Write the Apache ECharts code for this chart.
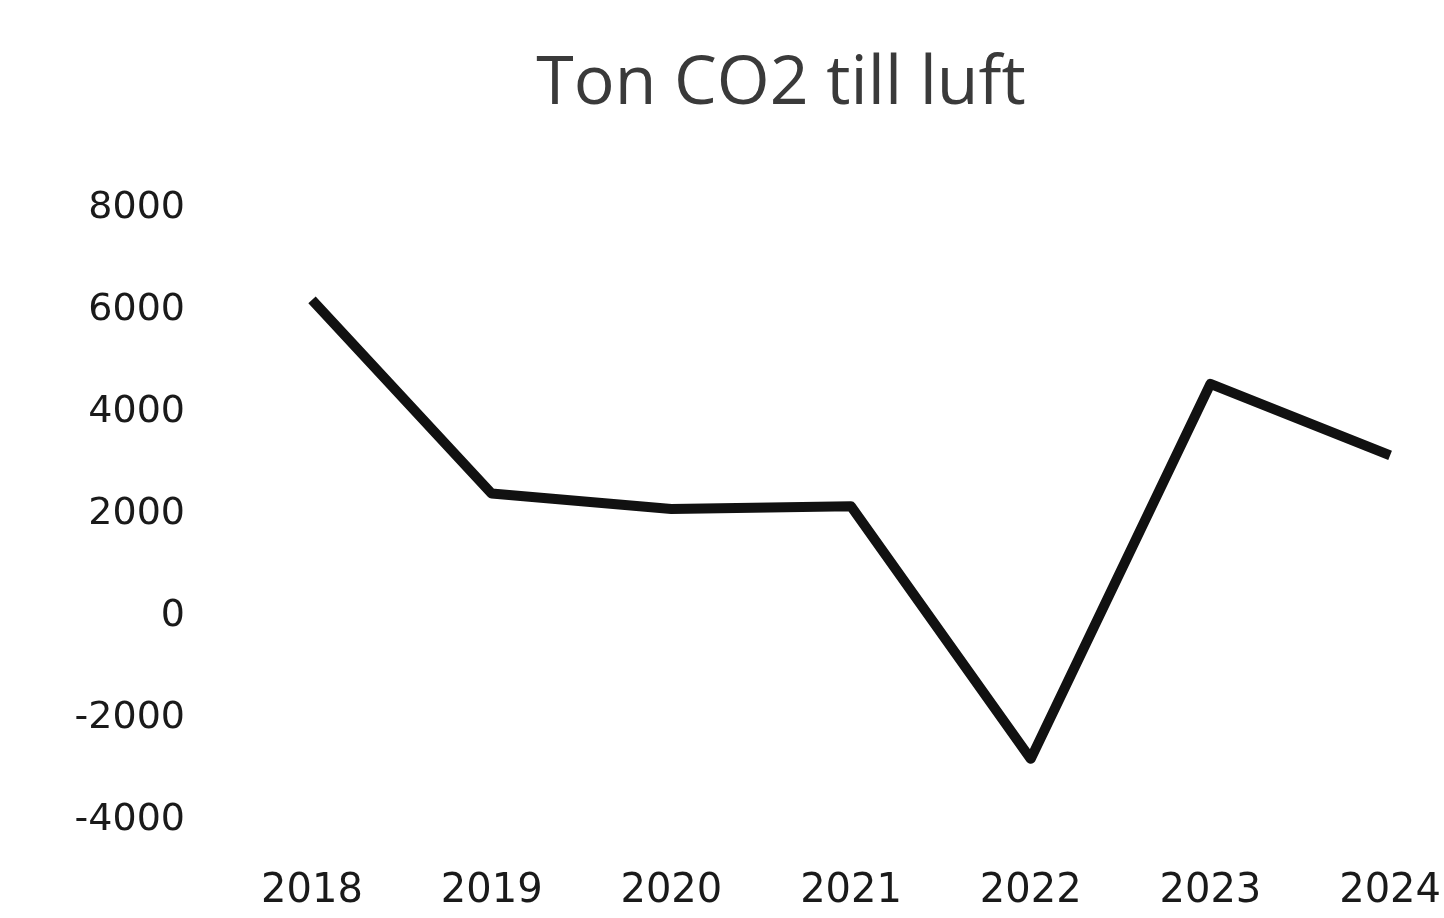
<!DOCTYPE html>
<html>
<head>
<meta charset="utf-8">
<script src="https://cdn.jsdelivr.net/npm/echarts@6/dist/echarts.min.js"></script>
<style>
html,body{margin:0;padding:0;background:#fff;}
#main{width:1444px;height:918px;}
</style>
</head>
<body>
<div id="main"></div>
<script>
const years = ['2018', '2019', '2020', '2021', '2022', '2023', '2024'];
const tonCO2 = [6200, 2400, 2100, 2150, -2800, 4550, 3150];
const yTicks = { min: -4000, max: 8000, interval: 2000 };
const titleText = 'Ton CO2 till luft';

const chart = echarts.init(document.getElementById('main'));
chart.setOption({
  backgroundColor: '#ffffff',
  animation: false,
  title: {
    text: titleText,
    left: 776,
    textAlign: 'center',
    top: 46,
    textStyle: { fontFamily: 'Open Sans', fontSize: 68, fontWeight: 'normal', color: '#3a3a3a' }
  },
  grid: { left: 312, right: 51, top: 208, bottom: 98 },
  xAxis: {
    type: 'category',
    data: years,
    boundaryGap: false,
    axisLine: { show: false },
    axisTick: { show: false },
    splitLine: { show: false },
    axisLabel: { margin: 52, fontFamily: 'DejaVu Sans', fontSize: 40, color: '#1a1a1a' }
  },
  yAxis: {
    type: 'value',
    min: yTicks.min,
    max: yTicks.max,
    interval: yTicks.interval,
    axisLine: { show: false },
    axisTick: { show: false },
    splitLine: { show: false },
    axisLabel: {
      margin: 127, fontFamily: 'DejaVu Sans', fontSize: 38, color: '#1a1a1a',
      formatter: function (v) { return String(v); }
    }
  },
  series: [{
    type: 'line',
    data: tonCO2,
    showSymbol: false,
    lineStyle: { color: '#111111', width: 10, join: 'round' }
  }]
});
</script>
</body>
</html>
